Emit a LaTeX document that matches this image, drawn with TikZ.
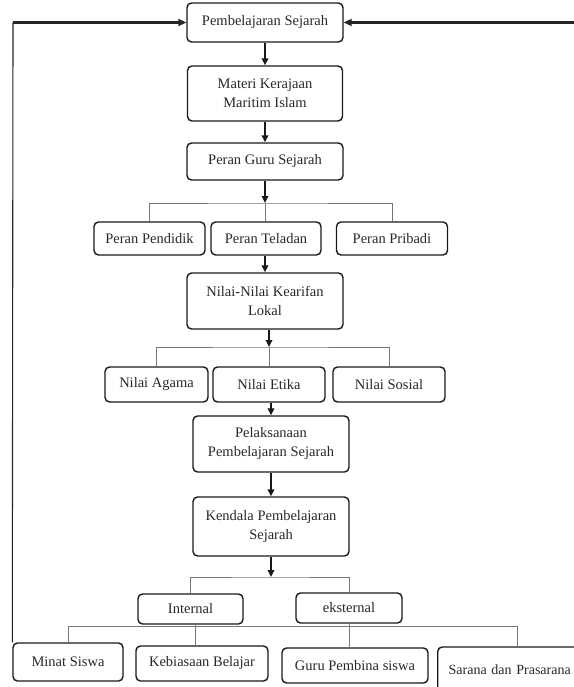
\documentclass[tikz,border=0pt]{standalone}
\usepackage{fontspec}
\setmainfont{Liberation Serif}
\usetikzlibrary{arrows.meta}
\definecolor{busgray}{RGB}{120,120,120}
\definecolor{txt}{RGB}{40,40,40}
\begin{document}
\begin{tikzpicture}[x=1pt,y=-1pt,
  box/.style={draw=black!90, line width=1.4pt, rounded corners=4.5pt, align=center, inner sep=0pt,
    text=txt, font=\fontsize{14.5}{19}\selectfont},
  arr/.style={draw=black!90, line width=1.7pt, -{Triangle[length=7pt,width=6.5pt]}},
  fb/.style={draw=black!85, line width=2.3pt, -{Triangle[length=8pt,width=7pt]}},
  fbthin/.style={draw=black!85, line width=1.1pt},
  bus/.style={draw=busgray, line width=0.9pt}
]
\useasboundingbox (0,0) rectangle (573,687);
\fill[white] (0,0) rectangle (573,687);

% main column
\node[box, minimum width=156pt, minimum height=39pt] (pemb) at (265,22.5) {Pembelajaran Sejarah};
\node[box, minimum width=155pt, minimum height=55pt] (materi) at (265,93.5) {Materi Kerajaan\\Maritim Islam};
\node[box, minimum width=156pt, minimum height=37pt] (guru) at (265,161.5) {Peran Guru Sejarah};

\node[box, minimum width=111pt, minimum height=33pt] (pendidik) at (149.5,238.5) {Peran Pendidik};
\node[box, minimum width=110pt, minimum height=33pt] (teladan) at (266,238.5) {Peran Teladan};
\node[box, minimum width=111pt, minimum height=33pt] (pribadi) at (392,238.5) {Peran Pribadi};

\node[box, minimum width=156pt, minimum height=56pt] (nilai) at (265,301) {Nilai-Nilai Kearifan\\Lokal};

\node[box, minimum width=103pt, minimum height=35pt] (agama) at (156.5,384.5) {Nilai Agama};
\node[box, minimum width=112pt, minimum height=35pt] (etika) at (269,384.5) {Nilai Etika};
\node[box, minimum width=112pt, minimum height=35pt] (sosial) at (389,384.5) {Nilai Sosial};

\node[box, minimum width=156pt, minimum height=56pt] (pelaks) at (271,444) {Pelaksanaan\\Pembelajaran Sejarah};
\node[box, minimum width=156pt, minimum height=59pt] (kendala) at (271,526.5) {Kendala Pembelajaran\\Sejarah};

\node[box, minimum width=105pt, minimum height=30pt] (internal) at (190.5,609) {Internal};
\node[box, minimum width=106pt, minimum height=30pt] (eksternal) at (349,608) {eksternal};

\node[box, minimum width=110pt, minimum height=38pt] (minat) at (68,662) {Minat Siswa};
\node[box, minimum width=132pt, minimum height=35pt] (kebiasaan) at (202,663.5) {Kebiasaan Belajar};
\node[box, minimum width=146pt, minimum height=35pt] (gurupemb) at (355,665.5) {Guru Pembina siswa};
\node[box, anchor=west, minimum height=46pt, inner xsep=11pt, text width=146pt, align=left,
      font=\fontsize{14}{19}\selectfont] (sarana) at (437,670) {Sarana dan Prasarana};

% bus coordinates
\coordinate (b1) at (265,203);
\coordinate (b2) at (269,347);
\coordinate (b3) at (271,577);
\coordinate (b4) at (66,626);
\coordinate (s4) at (517,626);
\coordinate (k4) at (195,626);
\coordinate (lc) at (13,22.5);

% feedback lines
\draw[fbthin] (minat.north west) -- (lc);
\draw[fb] (lc) -- (pemb.west);
\draw[fbthin] (sarana.north east) -- (sarana.north east |- pemb.east);
\draw[fb] (sarana.north east |- pemb.east) -- (pemb.east);

% main arrows
\draw[arr] (pemb) -- (materi);
\draw[arr] (materi) -- (guru);
\draw[arr] (guru) -- (b1);
\draw[bus] (pendidik.north) |- (b1) -| (pribadi.north);
\draw[bus] (b1) -- (b1 |- teladan.north);
\draw[arr] (teladan.south -| nilai.north) -- (nilai.north);

\draw[arr] (nilai.south -| b2) -- (b2);
\draw[bus] (agama.north) |- (b2) -| (sosial.north);
\draw[bus] (b2) -- (b2 |- etika.north);
\draw[arr] (etika.south -| pelaks.north) -- (pelaks.north);
\draw[arr] (pelaks) -- (kendala);

\draw[arr] (kendala) -- (b3);
\draw[bus] (internal.north) |- (b3) -| (eksternal.north);

\draw[bus] (minat.north) |- (s4) -- (s4 |- sarana.north);
\draw[bus] (internal.south -| k4) -- (k4 |- kebiasaan.north);
\draw[bus] (eksternal.south) -- (eksternal.south |- gurupemb.north);
\end{tikzpicture}
\end{document}
